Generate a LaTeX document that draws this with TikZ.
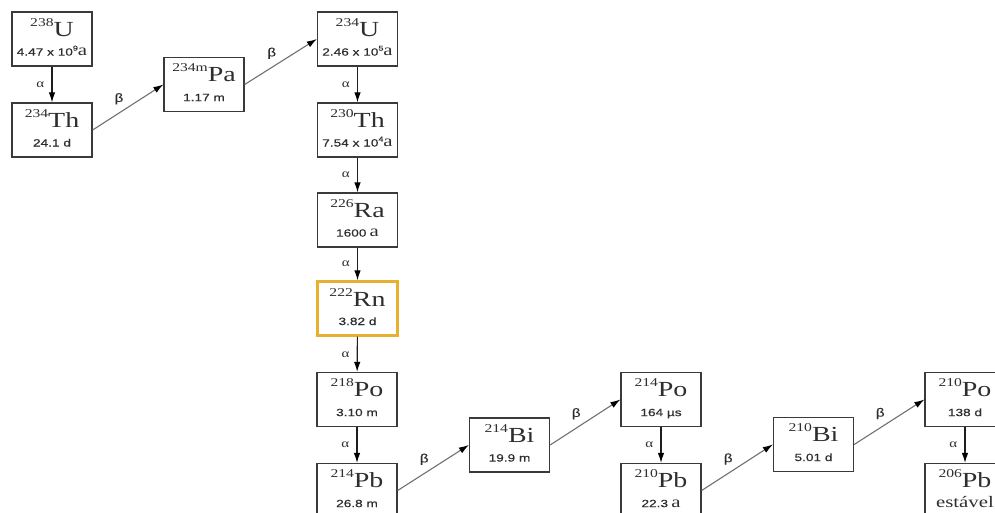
\documentclass[tikz,border=0pt]{standalone}
\usepackage{fontspec}
\setmainfont{Liberation Serif}
\newfontfamily\hlsans{Liberation Sans}[FakeBold=0.3]
\usetikzlibrary{arrows.meta}
\definecolor{boxgray}{HTML}{3A3A3A}
\definecolor{argray}{HTML}{707070}
\definecolor{vgray}{HTML}{1E1E1E}
\definecolor{txtgray}{HTML}{2E2E2E}
\definecolor{rnorange}{HTML}{E8B030}
\newcommand\nsym[2]{\raisebox{10pt}{\fontsize{12}{12}\selectfont #1}{\fontsize{21.5}{21.5}\selectfont #2}}
\newcommand\hl[1]{{\hlsans\fontsize{10.5}{10.5}\selectfont #1}}
\newcommand\sa[1]{{\fontsize{16}{16}\selectfont #1}}
\newcommand\tpow[1]{\raisebox{5pt}{\hlsans\fontsize{7}{7}\selectfont #1}}
\newcommand\nuc[3]{\scalebox{1.3}[1]{\vbox{\offinterlineskip\halign{\hfil##\hfil\cr\vrule height18pt width0pt\nsym{#1}{#2}\cr\vrule height19pt depth4pt width0pt #3\cr}}}}
\newcommand\wlab[1]{\scalebox{1.25}[1]{#1}}
\tikzset{
  nbox/.style={draw=boxgray, line width=1.3pt, fill=white, text=txtgray, minimum width=80pt, minimum height=54pt, inner sep=0pt},
  rnbox/.style={nbox, draw=rnorange, line width=2.4pt},
  varr/.style={draw=vgray, line width=1.1pt, -{Latex[length=10pt,width=6.5pt,color=black]}},
  darr/.style={draw=argray, line width=1.1pt, -{Latex[length=10pt,width=6.5pt,color=black]}},
  alab/.style={midway, left=4pt, font=\fontsize{12}{12}\selectfont, text=txtgray},
  blab/.style={midway, xshift=-9pt, yshift=8.5pt, font=\hlsans\fontsize{12}{12}\selectfont, text=txtgray}
}
\begin{document}
\begin{tikzpicture}[x=1pt,y=-1pt]
\useasboundingbox (0,0) rectangle (995,512);
\node[nbox] (u238) at (52,39) {\nuc{238}{U}{\hl{4.47 x 10\tpow{9}}\sa{a}}};
\node[nbox] (th234) at (52,130) {\nuc{234}{Th}{\hl{24.1 d}}};
\node[nbox] (pa234) at (204,84.5) {\nuc{234m}{Pa}{\hl{1.17 m}}};
\node[nbox] (u234) at (357.5,39) {\nuc{234}{U}{\hl{2.46 x 10\tpow{5}}\sa{a}}};
\node[nbox] (th230) at (357.5,130) {\nuc{230}{Th}{\hl{7.54 x 10\tpow{4}}\sa{a}}};
\node[nbox] (ra226) at (357.5,220) {\nuc{226}{Ra}{\hl{1600} \sa{a}}};
\node[rnbox] (rn222) at (357.5,308.5) {\nuc{222}{Rn}{\hl{3.82 d}}};
\node[nbox] (po218) at (357,399.5) {\nuc{218}{Po}{\hl{3.10 m}}};
\node[nbox] (pb214) at (357,490.5) {\nuc{214}{Pb}{\hl{26.8 m}}};
\node[nbox] (bi214) at (509.5,445) {\nuc{214}{Bi}{\hl{19.9 m}}};
\node[nbox] (po214) at (661,399.5) {\nuc{214}{Po}{\hl{164 µs}}};
\node[nbox] (pb210) at (661,490.5) {\nuc{210}{Pb}{\hl{22.3} \sa{a}}};
\node[nbox] (bi210) at (813.5,444.5) {\nuc{210}{Bi}{\hl{5.01 d}}};
\node[nbox] (po210) at (965,399.5) {\nuc{210}{Po}{\hl{138 d}}};
\node[nbox] (pb206) at (965,490.5) {\nuc{206}{Pb}{\sa{estável}}};
\draw[varr] (u238) -- (th234) node[alab] {\wlab{α}};
\draw[darr] (th234.east) -- (pa234.west) node[blab] {\wlab{β}};
\draw[darr] (pa234.east) -- (u234.west) node[blab] {\wlab{β}};
\draw[varr] (u234) -- (th230) node[alab] {\wlab{α}};
\draw[varr] (th230) -- (ra226) node[alab] {\wlab{α}};
\draw[varr] (ra226) -- (rn222) node[alab] {\wlab{α}};
\draw[varr] (rn222) -- (po218) node[alab] {\wlab{α}};
\draw[varr] (po218) -- (pb214) node[alab] {\wlab{α}};
\draw[darr] (pb214.east) -- (bi214.west) node[blab] {\wlab{β}};
\draw[darr] (bi214.east) -- (po214.west) node[blab] {\wlab{β}};
\draw[varr] (po214) -- (pb210) node[alab] {\wlab{α}};
\draw[darr] (pb210.east) -- (bi210.west) node[blab] {\wlab{β}};
\draw[darr] (bi210.east) -- (po210.west) node[blab] {\wlab{β}};
\draw[varr] (po210) -- (pb206) node[alab] {\wlab{α}};
\end{tikzpicture}
\end{document}
